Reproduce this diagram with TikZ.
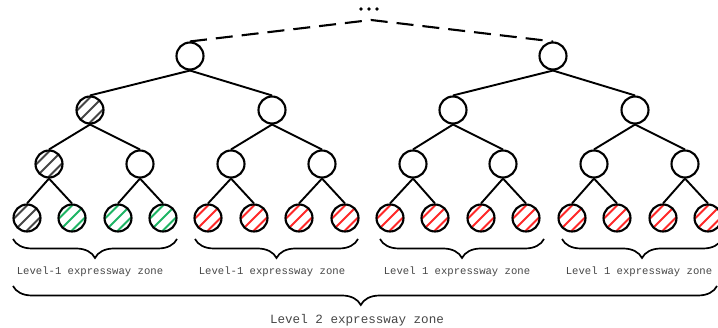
\documentclass[tikz,border=0pt]{standalone}
\usepackage{fontspec}
\setmonofont{Liberation Mono}
\usetikzlibrary{decorations.pathreplacing}
\definecolor{hatchred}{RGB}{255,40,40}
\definecolor{hatchgreen}{RGB}{30,180,100}
\definecolor{hatchgray}{RGB}{70,70,70}
\definecolor{labelgray}{RGB}{70,70,70}
\begin{document}
\begin{tikzpicture}[x=1pt,y=-1pt,
  treenode/.style={circle, draw=black, line width=2.1pt, minimum size=27pt, inner sep=0pt},
  hatched/.style={treenode, path picture={
      \foreach \k in {-2,...,2}{
        \draw[#1, line width=1.8pt]
          ([xshift=\k*12.5pt-20pt, yshift=-20pt]path picture bounding box.center)
          -- ++(40pt,40pt);
      }}},
  link/.style={line width=1.9pt},
  toplink/.style={line width=2.1pt, dash pattern=on 17pt off 9pt},
  zonebrace/.style={line width=1.7pt, decorate,
      decoration={brace, mirror, amplitude=19pt, aspect=#1}},
  zonebrace/.default=0.5,
  zonelabel/.style={font=\ttfamily\fontsize{10.6}{12}\selectfont, text=labelgray},
  biglabel/.style={font=\ttfamily\fontsize{12.6}{14}\selectfont, text=labelgray}
]
\useasboundingbox (0,0) rectangle (718,328);
\clip (0,0) rectangle (718,328);

% apex of the omitted upper levels
\coordinate (apex) at (371,20);
\foreach \dx in {-8,0,8} \fill (369+\dx,9) circle (1.8pt);

% level 0
\node[treenode] (r0) at (190,56) {};
\node[treenode] (r1) at (553,56) {};

% level 1
\node[hatched=hatchgray] (m0) at (90,110) {};
\node[treenode] (m1) at (272,110) {};
\node[treenode] (m2) at (453,110) {};
\node[treenode] (m3) at (635,110) {};

% level 2
\node[hatched=hatchgray] (n0) at (49,164) {};
\node[treenode] (n1) at (140,164) {};
\node[treenode] (n2) at (231,164) {};
\node[treenode] (n3) at (322,164) {};
\node[treenode] (n4) at (413,164) {};
\node[treenode] (n5) at (503,164) {};
\node[treenode] (n6) at (594,164) {};
\node[treenode] (n7) at (685,164) {};

% leaves
\node[hatched=hatchgray]  (l0)  at (27,218)  {};
\node[hatched=hatchgreen] (l1)  at (72,218)  {};
\node[hatched=hatchgreen] (l2)  at (118,218) {};
\node[hatched=hatchgreen] (l3)  at (163,218) {};
\node[hatched=hatchred]   (l4)  at (208,218) {};
\node[hatched=hatchred]   (l5)  at (254,218) {};
\node[hatched=hatchred]   (l6)  at (299,218) {};
\node[hatched=hatchred]   (l7)  at (345,218) {};
\node[hatched=hatchred]   (l8)  at (390,218) {};
\node[hatched=hatchred]   (l9)  at (435,218) {};
\node[hatched=hatchred]   (l10) at (481,218) {};
\node[hatched=hatchred]   (l11) at (526,218) {};
\node[hatched=hatchred]   (l12) at (572,218) {};
\node[hatched=hatchred]   (l13) at (617,218) {};
\node[hatched=hatchred]   (l14) at (663,218) {};
\node[hatched=hatchred]   (l15) at (708,218) {};

% dashed links to the upper levels
\draw[toplink] (r0.north) -- (apex) -- (r1.north);

% tree links
\draw[link] (r0.south) -- (m0.north);
\draw[link] (r0.south) -- (m1.north);
\draw[link] (r1.south) -- (m2.north);
\draw[link] (r1.south) -- (m3.north);
\foreach \p/\a/\b in {m0/n0/n1, m1/n2/n3, m2/n4/n5, m3/n6/n7,
                      n0/l0/l1, n1/l2/l3, n2/l4/l5, n3/l6/l7,
                      n4/l8/l9, n5/l10/l11, n6/l12/l13, n7/l14/l15}{
  \draw[link] (\p.south) -- (\a.north);
  \draw[link] (\p.south) -- (\b.north);
}

% level-1 zones
\coordinate (z0a) at (13,239);  \coordinate (z0b) at (177,239);
\coordinate (z1a) at (195,239); \coordinate (z1b) at (358,239);
\coordinate (z2a) at (380,239); \coordinate (z2b) at (544,239);
\coordinate (z3a) at (562,239); \coordinate (z3b) at (722,239);
\draw[zonebrace] (z0a) -- (z0b);
\draw[zonebrace] (z1a) -- (z1b);
\draw[zonebrace] (z2a) -- (z2b);
\draw[zonebrace] (z3a) -- (z3b);
\node[zonelabel] (t0) at (90,272)  {Level-1 expressway zone};
\node[zonelabel] (t1) at (272,272) {Level-1 expressway zone};
\node[zonelabel] (t2) at (457,272) {Level 1 expressway zone};
\node[zonelabel] (t3) at (639,272) {Level 1 expressway zone};

% level-2 zone
\coordinate (za) at (13,286); \coordinate (zb) at (717,286);
\draw[zonebrace=0.494] (za) -- (zb);
\node[biglabel] (t4) at (357,320) {Level 2 expressway zone};
\end{tikzpicture}
\end{document}
